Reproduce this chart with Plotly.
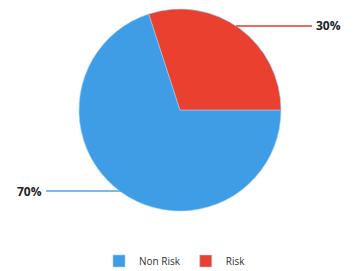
import plotly.graph_objects as go

categories = ["Non Risk", "Risk"]
values = [70, 30]
label_texts = ["70%", "30%"]
colors = ["#3f9de6", "#e9402f"]

W, H = 362, 271
OFF = 8  # page body margin
cx, cy, r = 180 - OFF, 110 - OFF, 101


def px(x):
    return (x - OFF) / W


def py(y):
    return (H - (y - OFF)) / H


fig = go.Figure(go.Pie(
    labels=categories,
    values=values,
    sort=False,
    direction="clockwise",
    rotation=90,
    textinfo="none",
    hoverinfo="label+percent",
    marker=dict(colors=colors, line=dict(color="#9fd0f5", width=0.6)),
    domain=dict(x=[(cx - r) / W, (cx + r) / W], y=[(H - cy - r) / H, (H - cy + r) / H]),
))

# leader lines and labels
fig.add_shape(type="line", xref="paper", yref="paper",
              x0=px(236), x1=px(312), y0=py(26), y1=py(26),
              line=dict(color="#e8372b", width=1.5))
fig.add_shape(type="line", xref="paper", yref="paper",
              x0=px(46), x1=px(121), y0=py(191), y1=py(191),
              line=dict(color="#4aa3e8", width=1.5))
fig.add_annotation(x=px(314), y=py(26), xref="paper", yref="paper",
                   text="<b>" + label_texts[1] + "</b>", showarrow=False,
                   xanchor="left", yanchor="middle",
                   font=dict(family="Open Sans, DejaVu Sans", size=12, color="#222222"))
fig.add_annotation(x=px(44), y=py(191), xref="paper", yref="paper",
                   text="<b>" + label_texts[0] + "</b>", showarrow=False,
                   xanchor="right", yanchor="middle",
                   font=dict(family="Open Sans, DejaVu Sans", size=12, color="#222222"))

fig.update_layout(
    width=W, height=H,
    margin=dict(l=0, r=0, t=0, b=0),
    paper_bgcolor="white",
    showlegend=True,
    legend=dict(orientation="h", x=px(175), xanchor="center", y=py(261), yanchor="middle",
                font=dict(family="Open Sans, DejaVu Sans", size=10, color="#333333"),
                itemwidth=30, traceorder="normal"),
)

fig.write_html("out.html")
